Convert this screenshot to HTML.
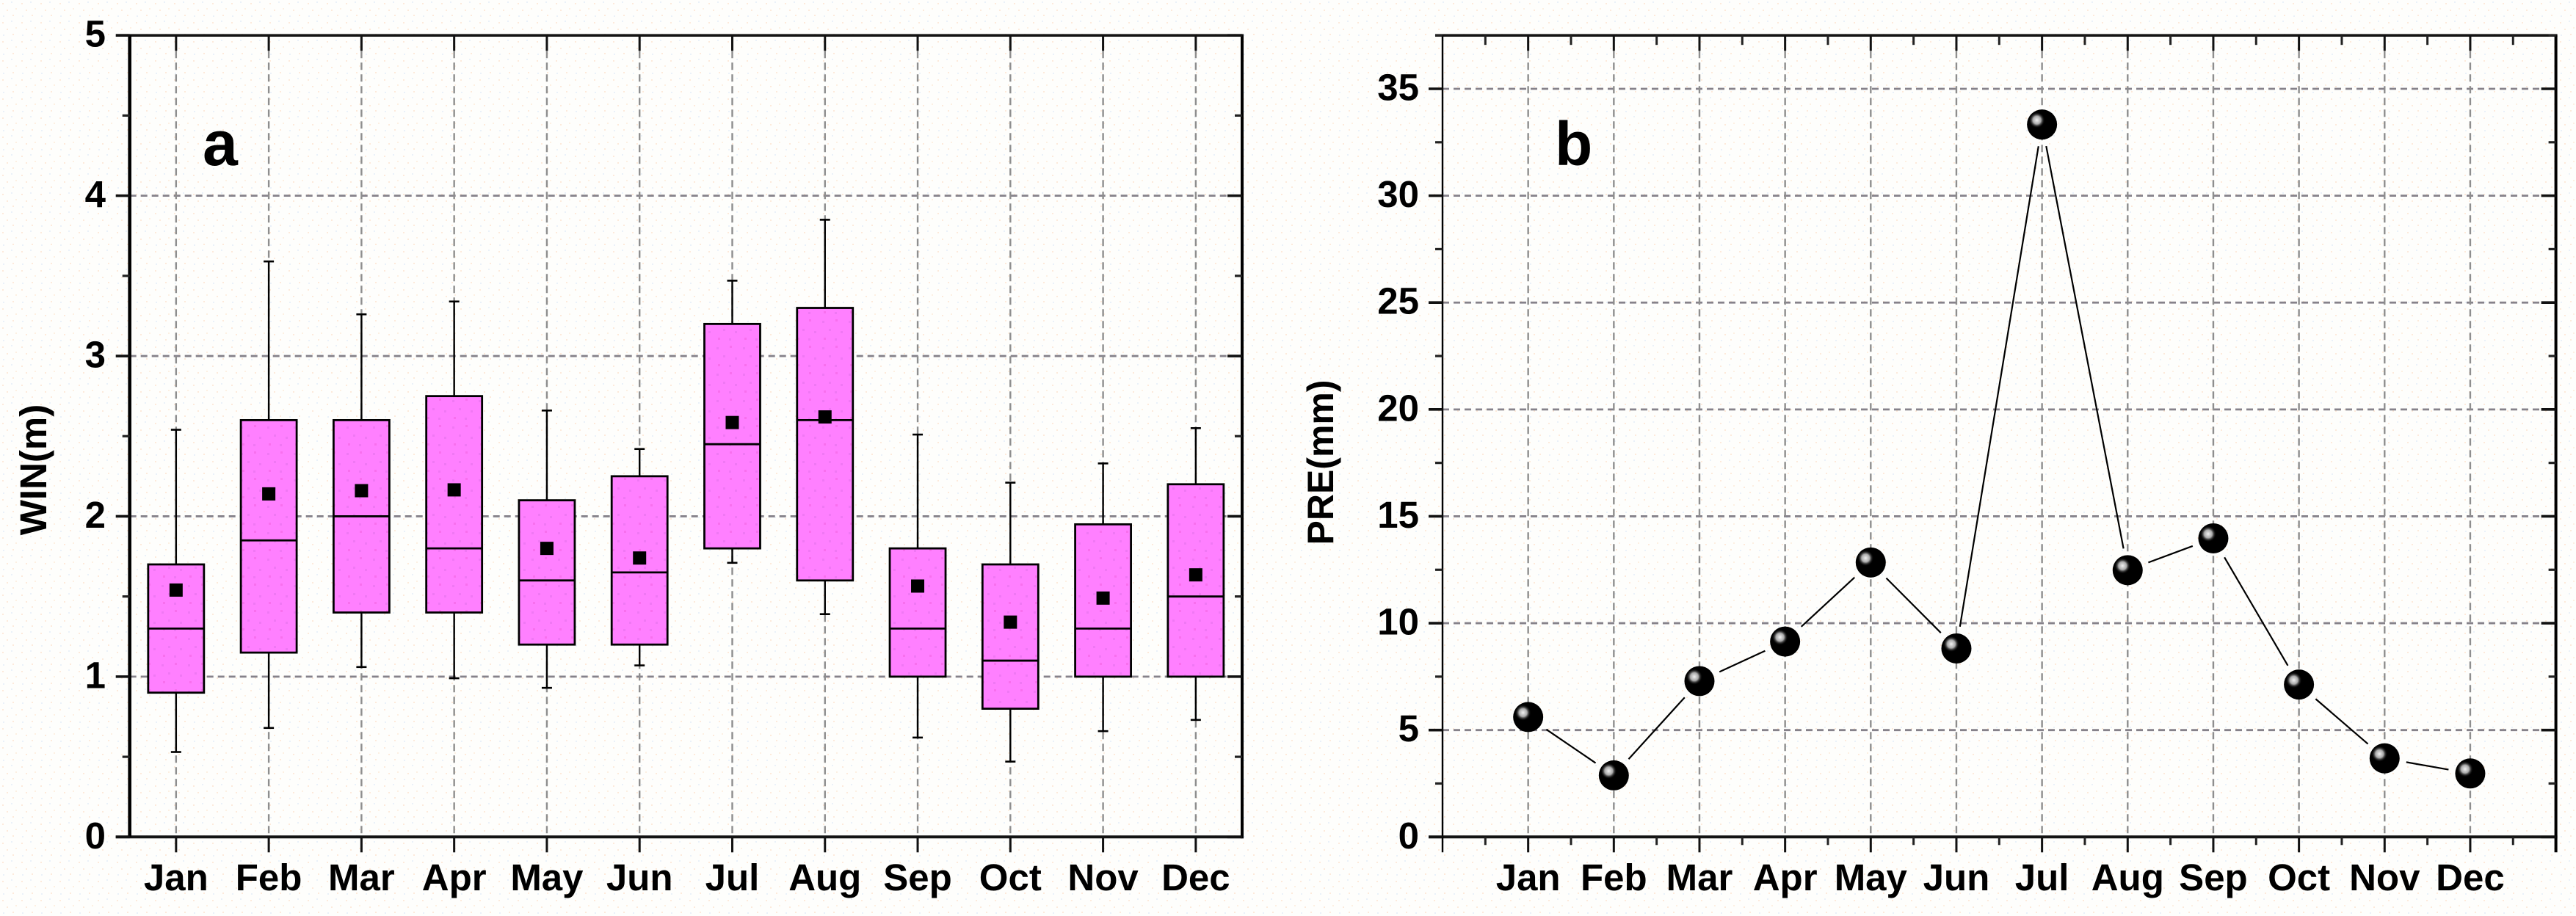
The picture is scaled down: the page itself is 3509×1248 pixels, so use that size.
<!DOCTYPE html>
<html lang="en">
<head>
<meta charset="utf-8">
<title>WIN and PRE monthly charts</title>
<style>
  html, body { margin: 0; padding: 0; background: #fefdfb; }
  svg { display: block; }
  text { font-family: "Liberation Sans", Arial, sans-serif; font-weight: bold; fill: #000; }
</style>
</head>
<body>
<svg id="figure" xmlns="http://www.w3.org/2000/svg" width="3509" height="1248" viewBox="0 0 3509 1248">
  <defs>
    <pattern id="paper" width="26" height="26" patternUnits="userSpaceOnUse">
      <rect width="26" height="26" fill="#fefefc"/>
      <rect x="3" y="4" width="2" height="2" fill="#fdeadb"/>
      <rect x="15" y="2" width="2" height="2" fill="#eaf1f9"/>
      <rect x="9" y="13" width="2" height="2" fill="#fdeadb"/>
      <rect x="21" y="11" width="2" height="2" fill="#fdf0e2"/>
      <rect x="4" y="21" width="2" height="2" fill="#eaf1f9"/>
      <rect x="17" y="20" width="2" height="2" fill="#fdeadb"/>
    </pattern>
    <pattern id="boxfill" width="36" height="36" patternUnits="userSpaceOnUse">
      <rect width="36" height="36" fill="#ff80ff"/>
      <rect x="4" y="5" width="3" height="3" fill="#f078f4"/>
      <rect x="22" y="3" width="3" height="3" fill="#f870ee"/>
      <rect x="13" y="16" width="3" height="3" fill="#f078f4"/>
      <rect x="29" y="19" width="3" height="3" fill="#f078f4"/>
      <rect x="6" y="28" width="3" height="3" fill="#f870ee"/>
      <rect x="21" y="29" width="3" height="3" fill="#f078f4"/>
    </pattern>
    <radialGradient id="shine">
      <stop offset="0" stop-color="#f2f2f2"/>
      <stop offset="0.5" stop-color="#a8a8a8"/>
      <stop offset="1" stop-color="#000" stop-opacity="0"/>
    </radialGradient>
  </defs>
  <rect x="0" y="0" width="3509" height="1248" fill="url(#paper)"/>

  <g id="panel-a"></g>
  <g id="panel-b"></g>

  <text x="276" y="225" font-size="86">a</text>
  <text x="2118" y="225" font-size="84">b</text>
  <text transform="translate(63 640) rotate(-90)" text-anchor="middle" font-size="51">WIN(m)</text>
  <text transform="translate(1816 630) rotate(-90)" text-anchor="middle" font-size="50">PRE(mm)</text>
</svg>

<script>
const months = ['Jan', 'Feb', 'Mar', 'Apr', 'May', 'Jun', 'Jul', 'Aug', 'Sep', 'Oct', 'Nov', 'Dec'];

// Panel a: box chart values
const whiskerLow = [0.53, 0.68, 1.06, 0.99, 0.93, 1.07, 1.71, 1.39, 0.62, 0.47, 0.66, 0.73];
const quartile1 = [0.9, 1.15, 1.4, 1.4, 1.2, 1.2, 1.8, 1.6, 1.0, 0.8, 1.0, 1.0];
const medians = [1.3, 1.85, 2.0, 1.8, 1.6, 1.65, 2.45, 2.6, 1.3, 1.1, 1.3, 1.5];
const quartile3 = [1.7, 2.6, 2.6, 2.75, 2.1, 2.25, 3.2, 3.3, 1.8, 1.7, 1.95, 2.2];
const whiskerHigh = [2.54, 3.59, 3.26, 3.34, 2.66, 2.42, 3.47, 3.85, 2.51, 2.21, 2.33, 2.55];
const means = [1.54, 2.14, 2.16, 2.165, 1.8, 1.74, 2.585, 2.62, 1.565, 1.34, 1.49, 1.635];
const yTicksA = [0, 1, 2, 3, 4, 5];
const yMinorA = [0.5, 1.5, 2.5, 3.5, 4.5];

// Panel b: precipitation values
const precipitation = [5.61, 2.88, 7.29, 9.14, 12.84, 8.82, 33.33, 12.48, 13.97, 7.13, 3.68, 2.97];
const yTicksB = [0, 5, 10, 15, 20, 25, 30, 35];
const yMinorB = [2.5, 7.5, 12.5, 17.5, 22.5, 27.5, 32.5, 37.5];

const NS = 'http://www.w3.org/2000/svg';
const TOP = 48.2;
const BOTTOM = 1140.3;

function line(parent, x1, y1, x2, y2, color, width, dash) {
  const el = document.createElementNS(NS, 'line');
  el.setAttribute('x1', x1);
  el.setAttribute('y1', y1);
  el.setAttribute('x2', x2);
  el.setAttribute('y2', y2);
  el.setAttribute('stroke', color);
  el.setAttribute('stroke-width', width);
  if (dash) el.setAttribute('stroke-dasharray', dash);
  parent.appendChild(el);
  return el;
}

function group(parent) {
  const el = document.createElementNS(NS, 'g');
  parent.appendChild(el);
  return el;
}

function label(parent, x, y, anchor, content) {
  const el = document.createElementNS(NS, 'text');
  el.setAttribute('x', x);
  el.setAttribute('y', y);
  el.setAttribute('text-anchor', anchor);
  el.setAttribute('font-size', '51');
  el.textContent = content;
  parent.appendChild(el);
  return el;
}

function drawFrame(panel, cfg, x, y) {
  const gridLayer = group(panel);
  
  
  cfg.yTicks.forEach(v => {
    if (v === 0 || y(v) <= TOP + 1) return;
    line(gridLayer, cfg.left, y(v), cfg.right - 20, y(v), '#86828a', 2.8, '9 6');
  });
  months.forEach((m, i) => {
    line(gridLayer, x(i), TOP + 21, x(i), BOTTOM, '#8e8e8e', 2.4, '10 6');
  });
  return gridLayer;
}

function drawAxes(panel, cfg, x, y) {
  const axes = group(panel);
  
  

  line(axes, cfg.topStart, TOP, cfg.right + 2, TOP, '#141414', 3.6);
  line(axes, cfg.left - 19, BOTTOM, cfg.right + 2, BOTTOM, '#141414', 4);
  line(axes, cfg.left, TOP, cfg.left, cfg.leftEnd, '#000', cfg.leftWidth);
  line(axes, cfg.right, TOP, cfg.right, cfg.rightEnd, '#000', 4);

  cfg.yTicks.forEach(v => {
    line(axes, cfg.left - 19, y(v), cfg.left, y(v), '#111', 3.6);
    line(axes, cfg.right - 20, y(v), cfg.right, y(v), '#111', 3.6);
    const t = label(axes, cfg.labelX, y(v) + 15.5, 'end', String(v));
    
    
  });
  cfg.yMinor.forEach(v => {
    line(axes, cfg.left - 10, y(v), cfg.left, y(v), '#222', 3.2);
    line(axes, cfg.right - 10, y(v), cfg.right, y(v), '#222', 3.2);
  });
  months.forEach((m, i) => {
    line(axes, x(i), TOP, x(i), TOP + 21, '#111', 3);
    line(axes, x(i), BOTTOM, x(i), BOTTOM + 21, '#111', 3);
    const t = label(axes, x(i), 1213, 'middle', m);
    
    
  });
  cfg.xMinor.forEach(p => {
    line(axes, x(p), TOP, x(p), TOP + 13, '#222', 3);
    line(axes, x(p), BOTTOM, x(p), BOTTOM + 11, '#222', 3);
  });
}

/* ---------- Panel a ---------- */
const cfgA = {
  prefix: 'panel-a', left: 176.7, right: 1692, topStart: 158, leftEnd: BOTTOM, rightEnd: BOTTOM + 2,
  leftWidth: 4.6, labelX: 144, yTicks: yTicksA, yMinor: yMinorA, xMinor: []
};
const xA = i => cfgA.left + (i + 0.5) * (cfgA.right - cfgA.left) / 12;
const yA = v => BOTTOM - v * (BOTTOM - TOP) / 5;
const panelA = document.getElementById('panel-a');
drawFrame(panelA, cfgA, xA, yA);

const BOX_W = 76;
months.forEach((m, i) => {
  const g = group(panelA);
  
  
  const cx = xA(i);

  line(g, cx, yA(whiskerHigh[i]), cx, yA(quartile3[i]), '#000', 2.4);
  line(g, cx, yA(quartile1[i]), cx, yA(whiskerLow[i]), '#000', 2.4);
  line(g, cx - 7, yA(whiskerHigh[i]), cx + 7, yA(whiskerHigh[i]), '#000', 2.6);
  line(g, cx - 7, yA(whiskerLow[i]), cx + 7, yA(whiskerLow[i]), '#000', 2.6);

  const r = document.createElementNS(NS, 'rect');
  r.setAttribute('x', cx - BOX_W / 2);
  r.setAttribute('y', yA(quartile3[i]));
  r.setAttribute('width', BOX_W);
  r.setAttribute('height', yA(quartile1[i]) - yA(quartile3[i]));
  r.setAttribute('fill', 'url(#boxfill)');
  r.setAttribute('stroke', '#000');
  r.setAttribute('stroke-width', '2.8');
  g.appendChild(r);

  line(g, cx - BOX_W / 2, yA(medians[i]), cx + BOX_W / 2, yA(medians[i]), '#000', 2.8);

  const mean = document.createElementNS(NS, 'rect');
  mean.setAttribute('x', cx - 9);
  mean.setAttribute('y', yA(means[i]) - 9);
  mean.setAttribute('width', 18);
  mean.setAttribute('height', 18);
  mean.setAttribute('fill', '#000');
  g.appendChild(mean);
});
drawAxes(panelA, cfgA, xA, yA);

/* ---------- Panel b ---------- */
const cfgB = {
  prefix: 'panel-b', left: 1965, right: 3481.6, topStart: 1955, leftEnd: BOTTOM + 21, rightEnd: BOTTOM + 21,
  leftWidth: 2.4, labelX: 1933, yTicks: yTicksB, yMinor: yMinorB,
  xMinor: [-0.5, 0.5, 1.5, 2.5, 3.5, 4.5, 5.5, 6.5, 7.5, 8.5, 9.5, 10.5, 11.5]
};
const xB = i => cfgB.left + (i + 1) * (cfgB.right - cfgB.left) / 13;
const yB = v => BOTTOM - v * (BOTTOM - TOP) / 37.5;
const panelB = document.getElementById('panel-b');
drawFrame(panelB, cfgB, xB, yB);

const lineLayer = group(panelB);


const GAP = 30;
for (let i = 0; i < precipitation.length - 1; i++) {
  const x1 = xB(i), y1 = yB(precipitation[i]);
  const x2 = xB(i + 1), y2 = yB(precipitation[i + 1]);
  const len = Math.hypot(x2 - x1, y2 - y1);
  const ux = (x2 - x1) / len, uy = (y2 - y1) / len;
  if (len > 2 * GAP) {
    line(lineLayer, x1 + ux * GAP, y1 + uy * GAP, x2 - ux * GAP, y2 - uy * GAP, '#000', 2.2);
  }
}

months.forEach((m, i) => {
  const g = group(panelB);
  
  
  const ball = document.createElementNS(NS, 'circle');
  ball.setAttribute('cx', xB(i));
  ball.setAttribute('cy', yB(precipitation[i]));
  ball.setAttribute('r', 20.5);
  ball.setAttribute('fill', '#000');
  g.appendChild(ball);
  const glint = document.createElementNS(NS, 'circle');
  glint.setAttribute('cx', xB(i) - 7);
  glint.setAttribute('cy', yB(precipitation[i]) - 6);
  glint.setAttribute('r', 11);
  glint.setAttribute('fill', 'url(#shine)');
  g.appendChild(glint);
});
drawAxes(panelB, cfgB, xB, yB);
</script>
</body>
</html>
